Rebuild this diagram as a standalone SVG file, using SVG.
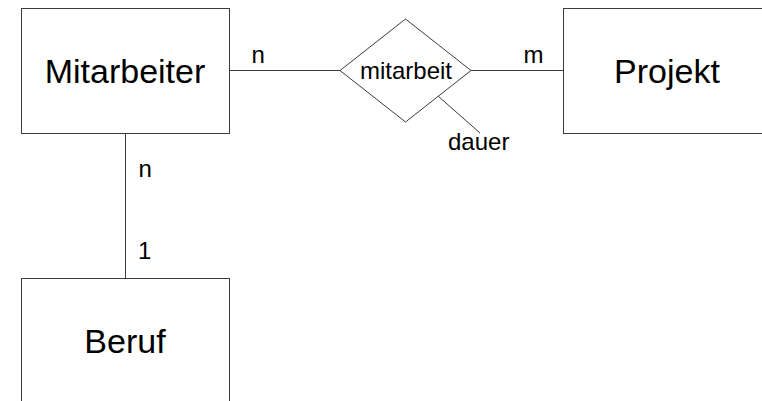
<svg xmlns="http://www.w3.org/2000/svg" width="762" height="401" viewBox="0 0 762 401">
  <style>
    .shape { fill: #ffffff; stroke: #3c3c3c; stroke-width: 1; }
    .edge { fill: none; stroke: #3c3c3c; stroke-width: 1; }
    .big { font-family: "Liberation Sans", Arial, sans-serif; font-size: 34px; fill: #000000; text-anchor: middle; }
    .small { font-family: "Liberation Sans", Arial, sans-serif; font-size: 24px; fill: #000000; }
  </style>
  <rect width="762" height="401" fill="#ffffff"/>

  <!-- connectors -->
  <g id="connectors">
    <line class="edge" x1="229" y1="70.5" x2="340" y2="70.5"/>
    <line class="edge" x1="471" y1="70.5" x2="563" y2="70.5"/>
    <line class="edge" x1="125.5" y1="133" x2="125.5" y2="278"/>
    <line class="edge" x1="438" y1="96" x2="480" y2="133"/>
    <text class="small" x="251.5" y="62.7">n</text>
    <text class="small" x="523.5" y="62.7">m</text>
    <text class="small" x="138.5" y="176.5">n</text>
    <text class="small" x="138" y="259">1</text>
  </g>

  <g id="mitarbeiter">
    <rect class="shape" x="21.5" y="8.5" width="208" height="125"/>
    <text class="big" x="125" y="82.5">Mitarbeiter</text>
  </g>

  <g id="mitarbeit">
    <polygon class="shape" points="340,70.5 405.5,19 471,70.5 405.5,122"/>
    <text class="small" x="406" y="79" text-anchor="middle">mitarbeit</text>
  </g>

  <g id="dauer">
    <text class="small" x="448" y="150">dauer</text>
  </g>

  <g id="projekt">
    <rect class="shape" x="563.5" y="8.5" width="208" height="125"/>
    <text class="big" x="667" y="82.5">Projekt</text>
  </g>

  <g id="beruf">
    <rect class="shape" x="21.5" y="278.5" width="208" height="125"/>
    <text class="big" x="125" y="352.5">Beruf</text>
  </g>
</svg>
